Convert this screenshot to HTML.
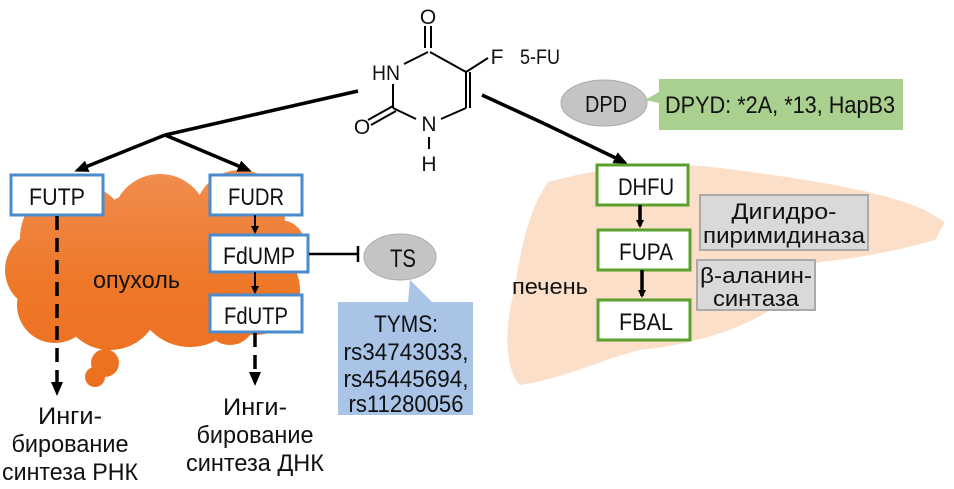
<!DOCTYPE html>
<html><head><meta charset="utf-8"><style>
html,body{margin:0;padding:0;background:#fff;}
svg{display:block;}
text{font-family:"Liberation Sans Narrow","Liberation Sans",sans-serif;fill:#111;}
</style></head><body>
<svg width="954" height="489" viewBox="0 0 954 489" xmlns="http://www.w3.org/2000/svg">
<defs>
<linearGradient id="og" gradientUnits="userSpaceOnUse" x1="0" y1="175" x2="0" y2="390">
<stop offset="0" stop-color="#f08c4e"/><stop offset="0.5" stop-color="#ee7828"/><stop offset="1" stop-color="#ec7020"/>
</linearGradient>
<marker id="ah" markerWidth="8" markerHeight="8" refX="6" refY="4" orient="auto" markerUnits="userSpaceOnUse"><path d="M0,0 L8,4 L0,8 Z" fill="#000"/></marker>
<marker id="ah2" markerWidth="14" markerHeight="12" refX="10" refY="6" orient="auto" markerUnits="userSpaceOnUse"><path d="M0,0 L14,6 L0,12 Z" fill="#000"/></marker>
</defs>
<path d="M548,182 C600,168 660,160 720,168 C800,178 880,190 925,210 L945,222 L935,240 C900,250 860,258 820,262 C800,268 780,290 770,310 C740,330 690,345 640,350 C600,360 560,380 520,385 C505,370 505,330 512,300 C520,260 525,215 548,182 Z" fill="#fbdfc9"/>
<g fill="url(#og)">
<circle cx="75" cy="238" r="55"/><circle cx="160" cy="222" r="48"/><circle cx="240" cy="215" r="45"/>
<circle cx="45" cy="270" r="40"/><circle cx="55" cy="305" r="38"/><circle cx="110" cy="300" r="50"/>
<circle cx="190" cy="292" r="55"/><circle cx="255" cy="290" r="45"/><circle cx="280" cy="245" r="25"/>
<circle cx="150" cy="260" r="70"/><circle cx="230" cy="320" r="25"/>
<circle cx="105" cy="363" r="14"/><circle cx="95" cy="377" r="10"/>
</g>
<g stroke="#000" stroke-width="2" fill="none">
<line x1="425" y1="48" x2="425" y2="26"/><line x1="431" y1="48" x2="431" y2="26"/>
<line x1="430" y1="52" x2="466" y2="72"/>
<line x1="466" y1="72" x2="488" y2="58"/>
<line x1="466" y1="72" x2="466" y2="108"/><line x1="470" y1="72" x2="470" y2="108"/>
<line x1="466" y1="108" x2="441" y2="119"/>
<line x1="416" y1="119" x2="393" y2="108"/>
<line x1="393" y1="106" x2="368" y2="120"/><line x1="396" y1="111" x2="371" y2="125"/>
<line x1="393" y1="108" x2="393" y2="84"/>
<line x1="404" y1="64" x2="428" y2="52"/>
<line x1="429" y1="137" x2="429" y2="149"/>
</g>
<g font-size="21">
<text x="428" y="24" text-anchor="middle">O</text>
<text x="386" y="80" text-anchor="middle" textLength="28" lengthAdjust="spacingAndGlyphs">HN</text>
<text x="362" y="134" text-anchor="middle">O</text>
<text x="429" y="131" text-anchor="middle">N</text>
<text x="429" y="171" text-anchor="middle">H</text>
<text x="497" y="64" text-anchor="middle">F</text>
<text x="520" y="64" textLength="40" lengthAdjust="spacingAndGlyphs">5-FU</text>
</g>
<g stroke="#000" stroke-width="3.5" fill="none">
<line x1="358" y1="91" x2="165" y2="135"/>
<line x1="165" y1="135" x2="78" y2="170" marker-end="url(#ah2)"/>
<line x1="165" y1="135" x2="248" y2="170" marker-end="url(#ah2)"/>
<line x1="482" y1="95" x2="545" y2="124"/>
<line x1="545" y1="124" x2="624" y2="162" marker-end="url(#ah2)"/>
</g>
<ellipse cx="604" cy="103" rx="43" ry="23" fill="#c4c4c4" stroke="#aaa"/>
<text x="606" y="112" font-size="23" text-anchor="middle" textLength="42" lengthAdjust="spacingAndGlyphs">DPD</text>
<path d="M659,79 L903,79 L903,130 L659,130 L659,103 L645,100 L659,92 Z" fill="#a9d08e"/>
<text x="665" y="113" font-size="24" textLength="230" lengthAdjust="spacingAndGlyphs">DPYD: *2A, *13, HapB3</text>
<g fill="#fff" stroke="#5aa02c" stroke-width="3">
<rect x="597" y="165" width="91" height="40"/>
<rect x="598" y="230" width="92" height="40"/>
<rect x="598" y="300" width="92" height="40"/>
</g>
<g font-size="24" text-anchor="middle">
<text x="646" y="195" textLength="56" lengthAdjust="spacingAndGlyphs">DHFU</text>
<text x="646" y="260" textLength="54" lengthAdjust="spacingAndGlyphs">FUPA</text>
<text x="646" y="330" textLength="54" lengthAdjust="spacingAndGlyphs">FBAL</text>
</g>
<g stroke="#000" stroke-width="3.5">
<line x1="640" y1="205" x2="640" y2="226" marker-end="url(#ah)"/>
<line x1="642" y1="270" x2="642" y2="296" marker-end="url(#ah)"/>
</g>
<g fill="#d9d9d9" stroke="#aaa" stroke-width="2">
<rect x="700" y="195" width="168" height="55"/>
<rect x="697" y="260" width="118" height="50"/>
</g>
<g font-size="22" text-anchor="middle">
<text x="784" y="219" textLength="105" lengthAdjust="spacingAndGlyphs">Дигидро-</text>
<text x="784" y="243" textLength="162" lengthAdjust="spacingAndGlyphs">пиримидиназа</text>
<text x="756" y="283" textLength="112" lengthAdjust="spacingAndGlyphs">β-аланин-</text>
<text x="756" y="306" textLength="86" lengthAdjust="spacingAndGlyphs">синтаза</text>
</g>
<text x="512" y="294" font-size="22" textLength="76" lengthAdjust="spacingAndGlyphs">печень</text>
<g fill="#fff" stroke="#4a8bcc" stroke-width="3">
<rect x="11" y="175" width="92" height="40"/>
<rect x="210" y="175" width="92" height="40"/>
<rect x="210" y="235" width="98" height="37"/>
<rect x="210" y="295" width="92" height="37"/>
</g>
<g font-size="24" text-anchor="middle">
<text x="57" y="205" textLength="56" lengthAdjust="spacingAndGlyphs">FUTP</text>
<text x="256" y="205" textLength="56" lengthAdjust="spacingAndGlyphs">FUDR</text>
<text x="259" y="264" textLength="72" lengthAdjust="spacingAndGlyphs">FdUMP</text>
<text x="256" y="324" textLength="64" lengthAdjust="spacingAndGlyphs">FdUTP</text>
</g>
<g stroke="#000" stroke-width="2">
<line x1="255" y1="215" x2="255" y2="232" marker-end="url(#ah)"/>
<line x1="255" y1="272" x2="255" y2="292" marker-end="url(#ah)"/>
</g>
<text x="93" y="288" font-size="24" textLength="87" lengthAdjust="spacingAndGlyphs">опухоль</text>
<g stroke="#000" stroke-width="3.5">
<line x1="57" y1="216" x2="57" y2="392" stroke-dasharray="14,8" marker-end="url(#ah2)"/>
<line x1="255" y1="333" x2="255" y2="382" stroke-dasharray="14,8" marker-end="url(#ah2)"/>
</g>
<line x1="309" y1="254" x2="358" y2="254" stroke="#000" stroke-width="2.5"/>
<line x1="358" y1="246" x2="358" y2="262" stroke="#000" stroke-width="2.5"/>
<ellipse cx="400" cy="257" rx="36" ry="23" fill="#c4c4c4" stroke="#aaa"/>
<text x="403" y="267" font-size="25" text-anchor="middle" textLength="26" lengthAdjust="spacingAndGlyphs">TS</text>
<path d="M338,302 L408,302 L410,280 L432,302 L473,302 L473,415 L338,415 Z" fill="#a9c4e6"/>
<g font-size="24" text-anchor="middle">
<text x="406" y="332" textLength="64" lengthAdjust="spacingAndGlyphs">TYMS:</text>
<text x="406" y="360" textLength="125" lengthAdjust="spacingAndGlyphs">rs34743033,</text>
<text x="406" y="387" textLength="125" lengthAdjust="spacingAndGlyphs">rs45445694,</text>
<text x="406" y="412" textLength="115" lengthAdjust="spacingAndGlyphs">rs11280056</text>
</g>
<g font-size="24" text-anchor="middle">
<text x="70" y="424" textLength="64" lengthAdjust="spacingAndGlyphs">Инги-</text>
<text x="70" y="452" textLength="117" lengthAdjust="spacingAndGlyphs">бирование</text>
<text x="70" y="480" textLength="136" lengthAdjust="spacingAndGlyphs">синтеза РНК</text>
<text x="255" y="415" textLength="64" lengthAdjust="spacingAndGlyphs">Инги-</text>
<text x="255" y="443" textLength="117" lengthAdjust="spacingAndGlyphs">бирование</text>
<text x="255" y="471" textLength="138" lengthAdjust="spacingAndGlyphs">синтеза ДНК</text>
</g>
</svg>
</body></html>
